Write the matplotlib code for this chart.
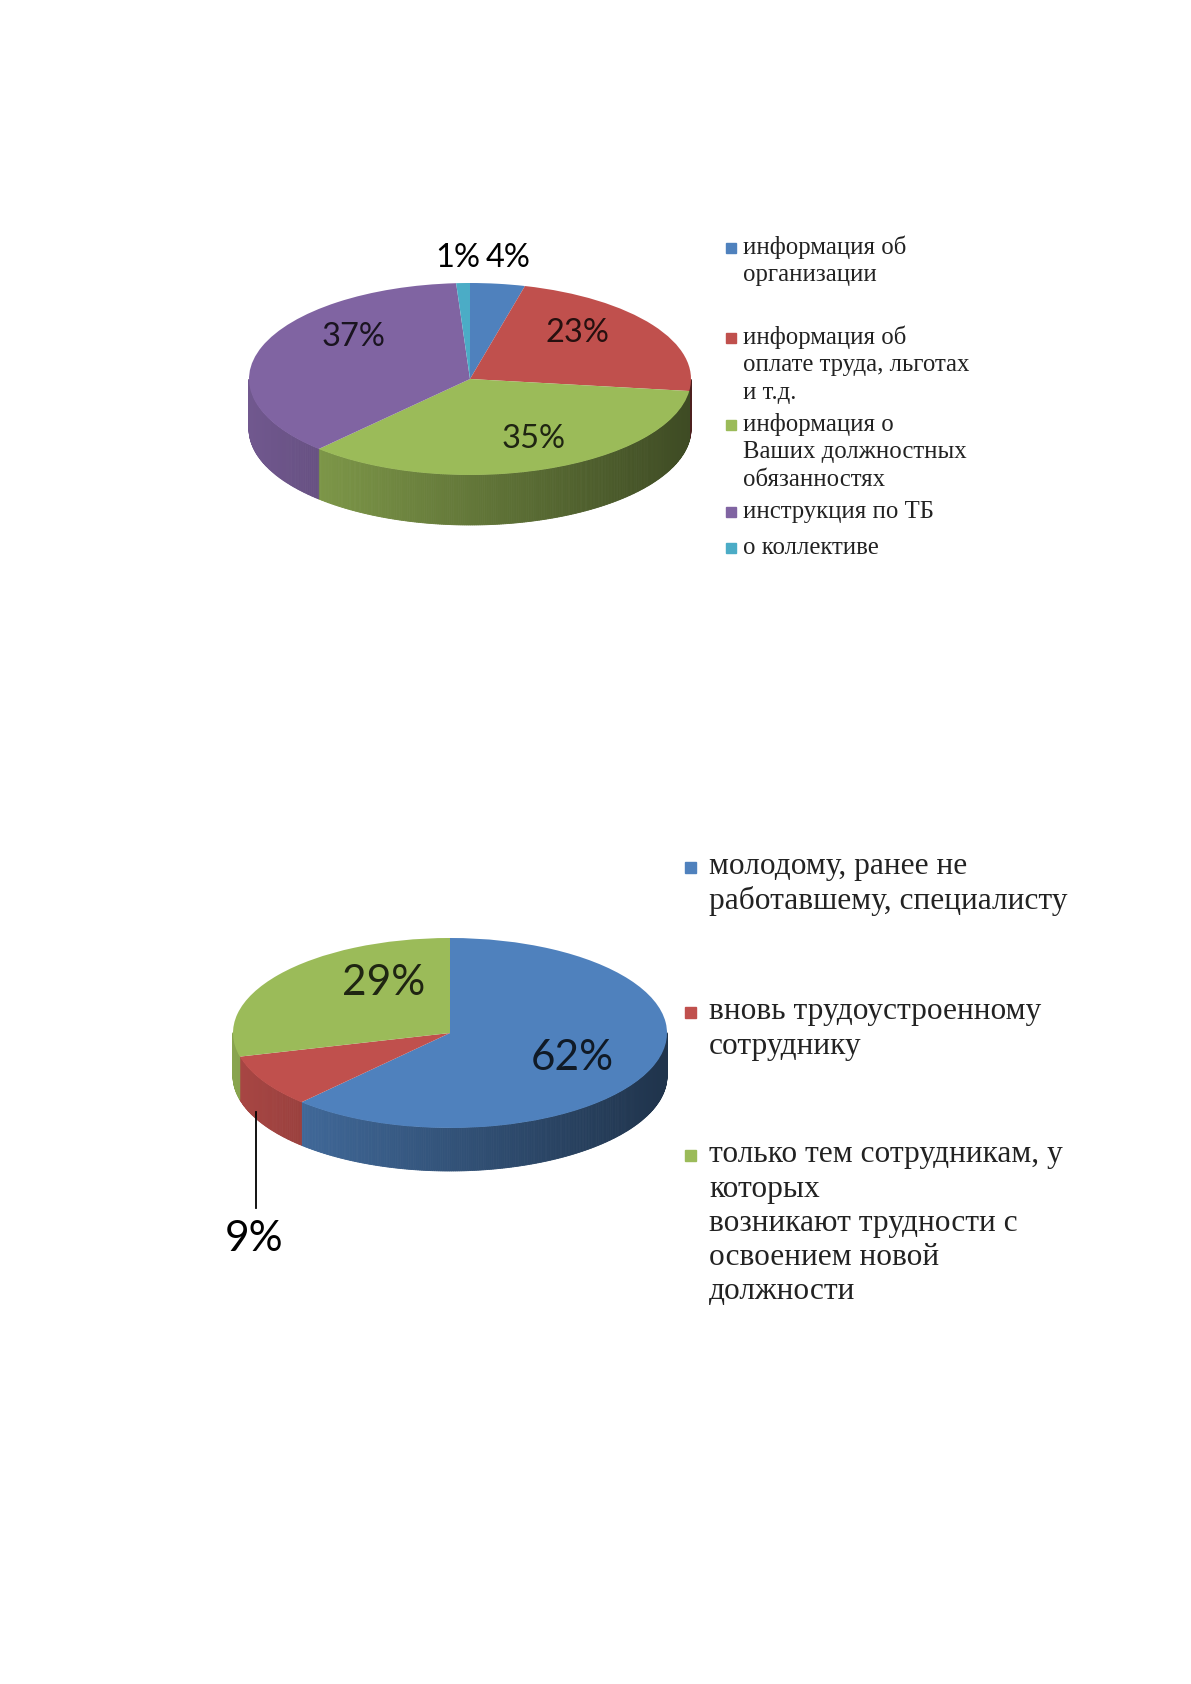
import numpy as np
import matplotlib.pyplot as plt
from matplotlib.patches import Polygon, Rectangle
from matplotlib.colors import to_rgb

W, H = 1191, 1684

top_labels = ["информация об\nорганизации",
              "информация об\nоплате труда, льготах\nи т.д.",
              "информация о\nВаших должностных\nобязанностях",
              "инструкция по ТБ",
              "о коллективе"]
top_values = [4, 23, 35, 37, 1]
top_colors = ["#4F81BD", "#C0504D", "#9BBB59", "#8064A2", "#4BACC6"]

bottom_labels = ["молодому, ранее не\nработавшему, специалисту",
                 "вновь трудоустроенному\nсотруднику",
                 "только тем сотрудникам, у\nкоторых\nвозникают трудности с\nосвоением новой\nдолжности"]
bottom_values = [62, 9, 29]
bottom_colors = ["#4F81BD", "#C0504D", "#9BBB59"]

fig = plt.figure(figsize=(W / 100, H / 100), dpi=100)
fig.patch.set_facecolor("white")


def pie3d(values, colors, cx, cy, rx, ry, depth):
    d = depth / ry
    ax = fig.add_axes([(cx - rx) / W, 1 - (cy + ry + depth) / H,
                       2 * rx / W, (2 * ry + depth) / H])
    ax.pie(values, colors=colors, startangle=90, counterclock=False,
           radius=1, wedgeprops=dict(linewidth=0))
    ax.set_aspect("auto")
    ax.set_xlim(-1, 1)
    ax.set_ylim(-1 - d, 1)
    ax.axis("off")
    # side of the disc, shaded from left to right
    frac = np.cumsum([0] + list(values)) / sum(values)
    for i, c in enumerate(colors):
        a1 = 90 - 360 * frac[i]
        a2 = 90 - 360 * frac[i + 1]
        t = np.radians(np.linspace(a2, a1, max(2, int((a1 - a2) * 2))))
        base = np.array(to_rgb(c))
        for t0, t1 in zip(t[:-1], t[1:]):
            tm = (t0 + t1) / 2
            if np.sin(tm) >= 0:
                continue
            col = base * (0.88 - 0.24 * (1 + np.cos(tm)))
            pts = [(np.cos(t0), np.sin(t0)), (np.cos(t1), np.sin(t1)),
                   (np.cos(t1), np.sin(t1) - d), (np.cos(t0), np.sin(t0) - d)]
            ax.add_patch(Polygon(pts, closed=True, facecolor=col, edgecolor=col,
                                 lw=0.6, zorder=0, clip_on=False))
    return ax


pie3d(top_values, top_colors, 470, 379, 221, 96, 50)
pie3d(bottom_values, bottom_colors, 450, 1033, 217, 95, 43)

ov = fig.add_axes([0, 0, 1, 1])
ov.set_xlim(0, W)
ov.set_ylim(H, 0)
ov.axis("off")


def pct_labels(values, colors, pos, inside, size):
    for v, c, (x, y), ins in zip(values, colors, pos, inside):
        col = np.array(to_rgb(c)) * 0.2 if ins else "black"
        ov.text(x, y, f"{v}%", fontsize=size, family="Lato", color=col,
                ha="center", va="center")


pct_labels(top_values, top_colors,
           [(508, 258), (577, 333), (534, 439), (353, 337), (458, 258)],
           [False, True, True, True, False], 23.5)
pct_labels(bottom_values, bottom_colors,
           [(572, 1058), (254, 1239), (384, 983)],
           [True, False, True], 30.5)
ov.plot([256, 256], [1112, 1208], color="black", lw=1.3)


def legend(labels, colors, x_sq, x_txt, ys, sq, step, size):
    shift = size * 100 / 72 * 0.23
    for lab, c, y in zip(labels, colors, ys):
        ov.add_patch(Rectangle((x_sq, y - sq / 2), sq, sq, color=c))
        for k, line in enumerate(lab.split("\n")):
            ov.text(x_txt, y + k * step + shift, line, fontsize=size,
                    family="Liberation Serif", color="#222222", va="baseline")


legend(top_labels, top_colors, 726, 743, [248, 338, 425, 512, 548], 10, 27.5, 17.8)
legend(bottom_labels, bottom_colors, 685, 709, [867, 1012, 1155], 11, 34.3, 22.6)

fig.savefig("out.png", dpi=100, facecolor="white")
